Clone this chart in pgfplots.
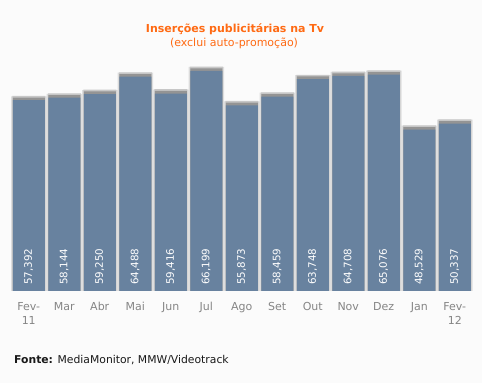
\documentclass[border=0pt]{standalone}
\usepackage{pgfplots}
\pgfplotsset{compat=1.18}
\usepackage{pgfplotstable}
\usepackage{fontspec}
\setmainfont{DejaVu Sans}
\definecolor{bg}{HTML}{FBFBFB}
\definecolor{barc}{HTML}{68829F}
\definecolor{ttl}{HTML}{FF6A13}
\definecolor{tick}{HTML}{858585}
\pgfplotstableread{
x val lab
0 57392 57,392
1 58144 58,144
2 59250 59,250
3 64488 64,488
4 59416 59,416
5 66199 66,199
6 55873 55,873
7 58459 58,459
8 63748 63,748
9 64708 64,708
10 65076 65,076
11 48529 48,529
12 50337 50,337
}\data
\begin{document}
\begin{tikzpicture}[x=1pt,y=1pt]
\fill[bg] (0,0) rectangle (482,383);
\begin{axis}[
  at={(11pt,92pt)}, anchor=south west,
  scale only axis, width=461.5pt, height=231pt,
  xmin=-0.5, xmax=12.5, ymin=0, ymax=69500,
  axis line style={draw=none},
  ytick=\empty,
  xtick={0,...,12},
  xticklabels={{Fev-\\11},Mar,Abr,Mai,Jun,Jul,Ago,Set,Out,Nov,Dez,Jan,{Fev-\\12}},
  major tick length=0pt,
  xticklabel style={font=\fontsize{11}{14}\selectfont, text=tick, align=center, anchor=north, yshift=-8pt},
  clip=false,
]
\addplot[ybar, bar shift=0pt, bar width=35.5pt, draw=none, fill=black!13]
  table[x=x, y expr=\thisrow{val}+1200] {\data};
\addplot[ybar, bar shift=0pt, bar width=33pt, draw=none, fill=black!22]
  table[x=x, y expr=\thisrow{val}+1300] {\data};
\addplot[ybar, bar shift=0pt, bar width=32pt, draw=none, fill=black!42]
  table[x=x, y expr=\thisrow{val}+800] {\data};
\addplot[ybar, bar shift=0pt, bar width=32pt, draw=none, fill=barc]
  table[x=x, y=val] {\data};
\addplot[draw=none, mark=none, nodes near coords, point meta=explicit symbolic,
  nodes near coords style={rotate=90, anchor=west, inner sep=0pt, text=white, font=\fontsize{10.3}{11}\selectfont}]
  table[x=x, y expr=1800, meta=lab] {\data};
\end{axis}
\node[font=\bfseries\fontsize{11}{13}\selectfont, text=ttl] at (235,354) {Inserções publicitárias na Tv};
\node[font=\fontsize{11}{13}\selectfont, text=ttl] at (234,340) {(exclui auto-promoção)};
\node[anchor=west, inner sep=0pt, font=\fontsize{10.8}{13}\selectfont, text=black!90] at (14,23) {\textbf{Fonte:} MediaMonitor, MMW/Videotrack};
\pgfresetboundingbox
\path (0,0) rectangle (482,383);
\end{tikzpicture}
\end{document}
